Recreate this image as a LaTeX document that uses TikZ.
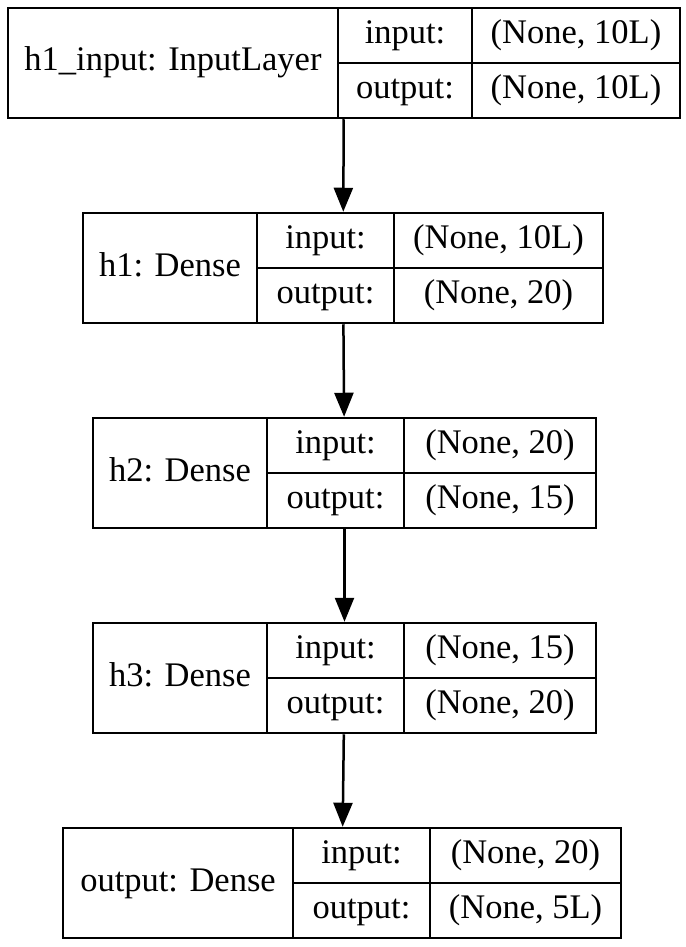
\documentclass[tikz,border=0pt]{standalone}
\usepackage{fontspec}
\setmainfont{Liberation Serif}
\usetikzlibrary{arrows.meta}

\begin{document}
\begin{tikzpicture}[x=1pt, y=-1pt,
  layer/.style={rectangle, draw, line width=2.5pt, minimum height=110pt, inner sep=0pt},
  cell/.style={rectangle, draw, line width=2.5pt, minimum height=55pt, inner sep=0pt,
    text height=24pt, text depth=8pt, font=\fontsize{34.5}{40}\selectfont},
  namecell/.style={cell, minimum height=110pt},
  arr/.style={-{Triangle[length=24pt, width=19pt]}, line width=2.5pt}
]
  \useasboundingbox (0,0) rectangle (685,947);

  % h1_input
  \node[layer, minimum width=672pt] (l1) at (344,63) {};
  \node[namecell, minimum width=330pt] (l1name) at (173,63) {h1\_input: InputLayer};
  \node[cell, minimum width=134pt] (l1inlab) at (405,35.5) {input:};
  \node[cell, minimum width=134pt] (l1outlab) at (405,90.5) {output:};
  \node[cell, minimum width=208pt] (l1inval) at (576,35.5) {(None, 10L)};
  \node[cell, minimum width=208pt] (l1outval) at (576,90.5) {(None, 10L)};

  % h1
  \node[layer, minimum width=520pt] (l2) at (343,268) {};
  \node[namecell, minimum width=174pt] (l2name) at (170,268) {h1: Dense};
  \node[cell, minimum width=137pt] (l2inlab) at (325.5,240.5) {input:};
  \node[cell, minimum width=137pt] (l2outlab) at (325.5,295.5) {output:};
  \node[cell, minimum width=209pt] (l2inval) at (498.5,240.5) {(None, 10L)};
  \node[cell, minimum width=209pt] (l2outval) at (498.5,295.5) {(None, 20)};

  % h2
  \node[layer, minimum width=503pt] (l3) at (344.5,473) {};
  \node[namecell, minimum width=174pt] (l3name) at (180,473) {h2: Dense};
  \node[cell, minimum width=137pt] (l3inlab) at (335.5,445.5) {input:};
  \node[cell, minimum width=137pt] (l3outlab) at (335.5,500.5) {output:};
  \node[cell, minimum width=192pt] (l3inval) at (500,445.5) {(None, 20)};
  \node[cell, minimum width=192pt] (l3outval) at (500,500.5) {(None, 15)};

  % h3
  \node[layer, minimum width=503pt] (l4) at (344.5,678) {};
  \node[namecell, minimum width=174pt] (l4name) at (180,678) {h3: Dense};
  \node[cell, minimum width=137pt] (l4inlab) at (335.5,650.5) {input:};
  \node[cell, minimum width=137pt] (l4outlab) at (335.5,705.5) {output:};
  \node[cell, minimum width=192pt] (l4inval) at (500,650.5) {(None, 15)};
  \node[cell, minimum width=192pt] (l4outval) at (500,705.5) {(None, 20)};

  % output
  \node[layer, minimum width=558pt] (l5) at (342,883) {};
  \node[namecell, minimum width=230pt] (l5name) at (178,883) {output: Dense};
  \node[cell, minimum width=137pt] (l5inlab) at (361.5,855.5) {input:};
  \node[cell, minimum width=137pt] (l5outlab) at (361.5,910.5) {output:};
  \node[cell, minimum width=191pt] (l5inval) at (525.5,855.5) {(None, 20)};
  \node[cell, minimum width=191pt] (l5outval) at (525.5,910.5) {(None, 5L)};

  \draw[arr] (l1) -- (l2);
  \draw[arr] (l2) -- (l3);
  \draw[arr] (l3) -- (l4);
  \draw[arr] (l4) -- (l5);
\end{tikzpicture}
\end{document}
